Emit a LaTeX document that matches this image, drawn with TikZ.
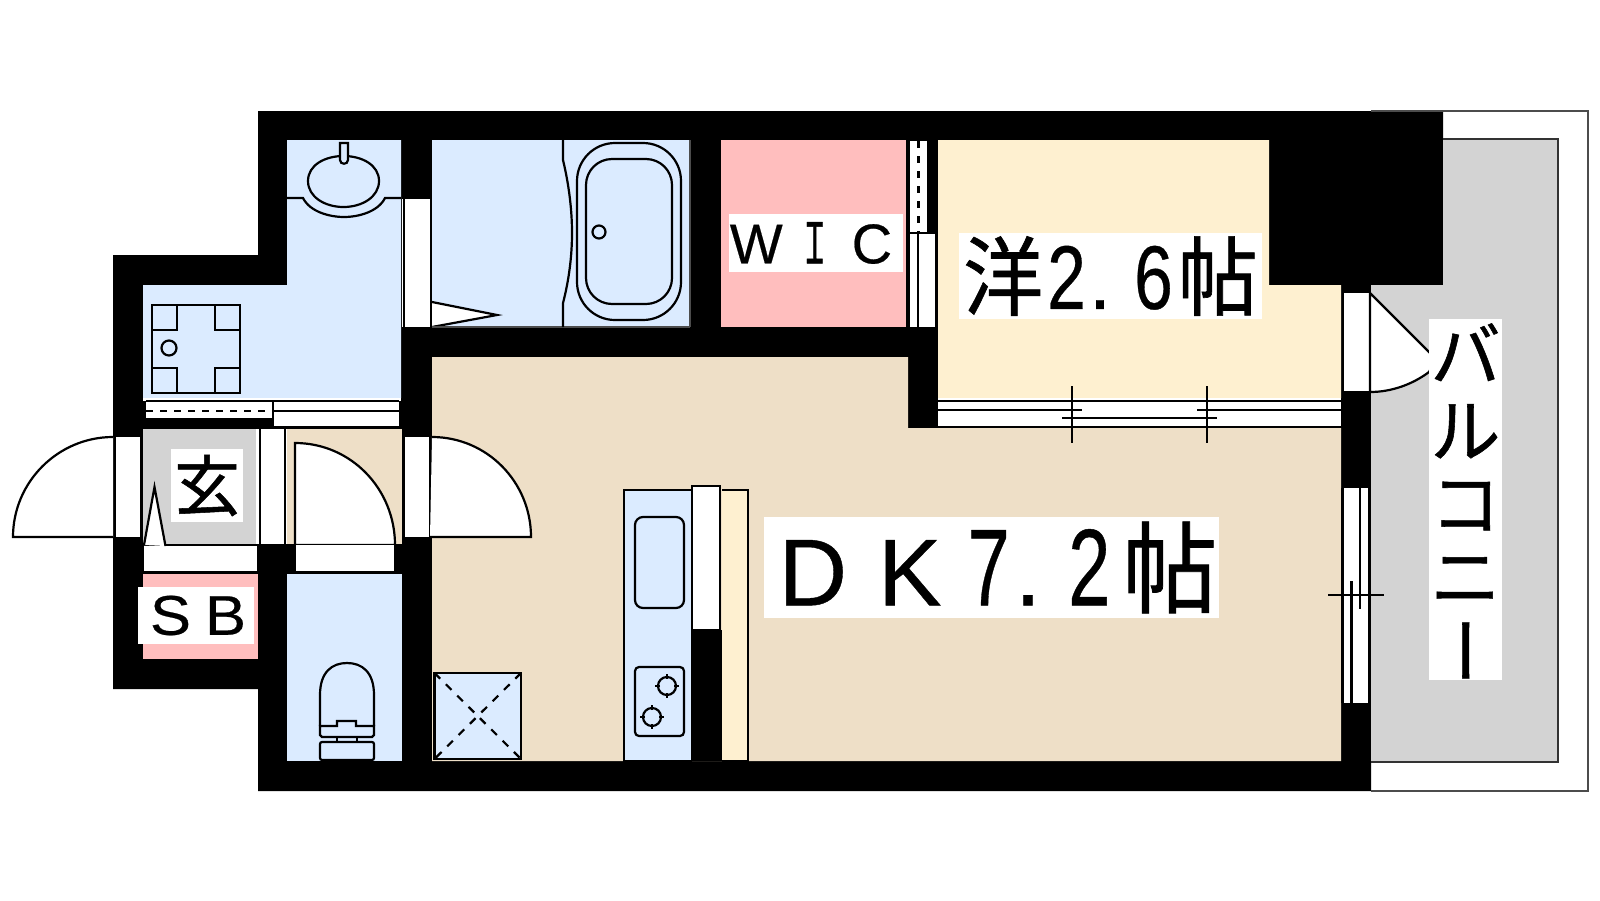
\documentclass[tikz,border=0pt]{standalone}
\usepackage{fontspec}
\usepackage{xcolor}
\usepackage{graphicx}
\setmainfont[FakeBold=0.4]{Liberation Sans}
\newfontfamily\jpfont[FakeBold=0.8]{Noto Sans CJK JP}
\usetikzlibrary{positioning}
\definecolor{bathblue}{HTML}{DBEBFF}
\definecolor{floortan}{HTML}{EEDFC7}
\definecolor{roomcream}{HTML}{FEF0D0}
\definecolor{closetpink}{HTML}{FFBEBE}
\definecolor{slabgrey}{HTML}{D3D3D3}
\newcommand{\bignum}[1]{\scalebox{0.8}[1.15]{#1}}
\newcommand{\midnum}[1]{\scalebox{0.87}[1.13]{#1}}

\begin{document}
\begin{tikzpicture}[x=0.5pt,y=-0.5pt,
  fixture/.style={draw=black,line width=1.1pt},
  thinline/.style={draw=black,line width=1.1pt},
  tag/.style={fill=white,inner sep=0pt},
  smalltag/.style={tag,font=\fontsize{28}{28}\selectfont},
  bigtag/.style={tag,font=\fontsize{47.5}{47.5}\selectfont}]
\useasboundingbox (0,0) rectangle (1600,900);

\fill[black] (258,111) -- (1443,111) -- (1443,285) -- (1371,285) -- (1371,791) -- (258,791) -- (258,689) -- (113,689) -- (113,255) -- (258,255) -- cycle;

\fill[slabgrey] (1443,139) -- (1558,139) -- (1558,762) -- (1371,762) -- (1371,285) -- (1443,285) -- cycle;
\draw[thinline,draw=black!80] (1443,139) -- (1558,139) -- (1558,762) -- (1371,762);
\draw[thinline,draw=black!70] (1371,111) -- (1588,111) -- (1588,791) -- (1371,791);

\fill[bathblue] (287,140) -- (401,140) -- (401,398) -- (143,398) -- (143,285) -- (287,285) -- cycle;
\fill[bathblue] (432,140) rectangle (689,327);
\fill[closetpink] (721,140) rectangle (906,327);
\fill[roomcream] (938,140) -- (1269,140) -- (1269,285) -- (1341,285) -- (1341,398) -- (938,398) -- cycle;
\fill[floortan] (432,357) -- (908,357) -- (908,428) -- (1341,428) -- (1341,761) -- (432,761) -- cycle;
\fill[floortan] (287,429) rectangle (402,544);
\fill[slabgrey] (143,429) rectangle (256,544);
\fill[closetpink] (143,574) rectangle (258,659);
\fill[bathblue] (287,574) rectangle (402,761);

% openings
\fill[white] (143,398) rectangle (401,401);
\fill[white] (146,401) rectangle (272,418);
\fill[white] (273,401) rectangle (399,427);
\draw[thinline] (146,401) -- (399,401);
\draw[thinline,dash pattern=on 3.5pt off 3.5pt] (146,411) -- (272,411);
\draw[thinline] (273,411) -- (399,411);
\draw[thinline] (273,401) -- (273,427) -- (399,427);

\fill[white] (115,437) rectangle (141,537);
\draw[thinline] (115,437) -- (115,537);
\draw[thinline] (141,437) -- (141,537);
\filldraw[fill=white,thinline] (113,437) .. controls (58,437) and (13,482) .. (13,537) -- (113,537);

\fill[white] (144,545) rectangle (257,572);
\draw[thinline] (144,545) -- (257,545);
\draw[thinline] (144,572) -- (257,572);
\filldraw[fill=white,thinline] (144,545) -- (154.5,487) -- (165.5,546);

\fill[white] (256,429) rectangle (287,544);
\draw[thinline] (260,429) -- (260,544);
\draw[thinline] (285,429) -- (285,544);

\filldraw[fill=white,thinline] (295,545) -- (295,443) .. controls (351,443) and (395,489) .. (395,545) -- cycle;
\fill[white] (296,545) rectangle (394,572);
\draw[thinline] (296,572) -- (394,572);

\fill[white] (404,437) rectangle (430,537);
\draw[thinline] (404,437) -- (404,537);
\draw[thinline] (430,437) -- (430,537);
\filldraw[fill=white,thinline] (430,537) -- (531,537) .. controls (531,482) and (487,437) .. (432,437);

\fill[white] (402,199) rectangle (432,327);
\draw[thinline] (404,199) -- (404,327);
\draw[thinline] (431,199) -- (431,327);
\filldraw[fill=white,thinline] (432,302) -- (497,315) -- (432,327);

\fill[white] (910,141) rectangle (927,233);
\fill[white] (909,233) rectangle (936,327);
\draw[thinline] (909,141) -- (909,327);
\draw[thinline,line width=1.5pt,dash pattern=on 3.5pt off 4pt] (918,141) -- (918,233);
\draw[thinline] (909,233) -- (936,233);
\draw[thinline] (918,233) -- (918,327);
\draw[thinline] (936,233) -- (936,327);

\fill[white] (938,398) rectangle (1341,428);
\draw[thinline] (938,401) -- (1341,401);
\draw[thinline] (938,427) -- (1341,427);
\draw[thinline] (938,410) -- (1082,410);
\draw[thinline] (1197,410) -- (1341,410);
\draw[thinline] (1062,418) -- (1217,418);
\draw[thinline] (1072,386) -- (1072,443);
\draw[thinline] (1207,386) -- (1207,443);

\fill[white] (1343,293) rectangle (1370,392);
\draw[thinline] (1343,293) -- (1343,392) -- (1370,392);
\draw[thinline] (1370,293) -- (1370,392);
\filldraw[fill=white,thinline] (1370,293) -- (1440,363) -- (1440,350) -- (1429,372) .. controls (1413,384) and (1392,392) .. (1370,392) -- cycle;

\fill[white] (1342,488) rectangle (1370,703);
\draw[thinline] (1342.5,488) -- (1342.5,703);
\draw[thinline] (1369,488) -- (1369,703);
\draw[thinline] (1360,488) -- (1360,609);
\draw[thinline] (1351.5,581) -- (1351.5,703);
\draw[thinline] (1328,595) -- (1384,595);

% washroom
\draw[fixture] (287,198) -- (303,198) .. controls (310,212) and (330,217) .. (344,217) .. controls (358,217) and (378,212) .. (385,198) -- (401,198);
\draw[fixture,fill=bathblue] (308,181) .. controls (308,165) and (325,156) .. (343.5,156) .. controls (362,156) and (379,165) .. (379,181) .. controls (379,197) and (362,207) .. (343.5,207) .. controls (325,207) and (308,197) .. (308,181) -- cycle;
\draw[fixture,fill=bathblue] (340,143) -- (348,143) -- (348,160) .. controls (348,165) and (340,165) .. (340,160) -- cycle;
\draw[fixture] (152,305) rectangle (240,393);
\draw[fixture] (177,305) |- (152,330);
\draw[fixture] (215,305) |- (240,330);
\draw[fixture] (177,393) |- (152,368);
\draw[fixture] (215,393) |- (240,368);
\draw[fixture] (169,348) circle [radius=7.5];

% bath
\draw[thinline,draw=black!70] (690,140) -- (690,327);
\draw[thinline,draw=black!70] (432,327) -- (690,327);
\draw[fixture] (563,140) -- (563,160) .. controls (569,185) and (572,210) .. (572,233) .. controls (572,256) and (569,280) .. (563,303) -- (563,327);
\draw[fixture,rounded corners=19pt] (577,143) rectangle (681,320);
\draw[fixture,rounded corners=13pt] (586,159) rectangle (672,304);
\draw[fixture] (599,232) circle [radius=6.5];

% toilet
\draw[fixture] (320,726) -- (320,695) .. controls (320,672) and (332,663) .. (347,663) .. controls (362,663) and (374,672) .. (374,695) -- (374,726);
\draw[fixture] (320,726) -- (337,726) -- (337,721) -- (356,721) -- (356,726) -- (374,726) -- (374,735) -- (372,737) -- (322,737) -- (320,735) -- cycle;
\draw[fixture] (337,737) rectangle (357,742);
\draw[fixture,rounded corners=1pt] (320,742) rectangle (374,760);

% hatch
\draw[fixture,line width=1.3pt,fill=bathblue] (434.5,673) rectangle (521,759);
\draw[thinline,dash pattern=on 4pt off 4pt] (434.5,673) -- (521,759);
\draw[thinline,dash pattern=on 4pt off 4pt] (521,673) -- (434.5,759);

% kitchen
\draw[fixture,fill=roomcream] (722,490) -- (748,490) -- (748,761) -- (722,761);
\draw[fixture,fill=bathblue] (692,490) -- (624,490) -- (624,761) -- (692,761);
\fill[black] (691,630) rectangle (722,761);
\filldraw[fill=white,fixture] (692,486) -- (720,486) -- (720,630) -- (692,630) -- cycle;
\draw[fixture,rounded corners=4pt] (635,517) rectangle (684,608);
\draw[fixture,rounded corners=2pt] (635,667) rectangle (684,736);
\foreach \cx/\cy in {667/686,652/717}{
  \draw[fixture] (\cx,\cy) circle [radius=9];
  \foreach \a in {0,90,180,270}
    \draw[fixture] (\cx,\cy) ++(\a:7) -- ++(\a:5);
}

% labels
\node[smalltag,minimum width=87pt,minimum height=29pt] (wiclabel) at (815.5,243) {W\makebox[32pt]{\scalebox{0.55}[1]{\jpfont Ｉ}}\kern2.5pt C\kern4.5pt};
\node[smalltag,minimum width=58pt,minimum height=28.5pt] (sblabel) at (196,615.5) {\kern2pt\scalebox{1.1}[1]{S}\kern7pt\scalebox{1.1}[1]{B}};
\node[tag,font=\fontsize{33}{33}\selectfont\jpfont,minimum width=36pt,minimum height=36.5pt] (genkanlabel) at (207,485.5) {玄};
\node[tag,font=\fontsize{40}{40}\selectfont,minimum width=151.5pt,minimum height=43pt] (yolabel) at (1110.5,276) {\scalebox{1}[1.08]{\jpfont 洋}\kern2pt\midnum{2}\kern1.5pt.\kern11.5pt\midnum{6}\kern2.5pt\scalebox{1}[1.08]{\jpfont 帖}};
\node[bigtag,minimum width=227.5pt,minimum height=50.5pt] (dklabel) at (991.5,567.5) {\raisebox{-1.5pt}{\kern6.5pt D\kern15.5pt K\kern13pt\bignum{7}\kern2.5pt.\kern13.5pt\bignum{2}\kern6pt\scalebox{1}[1.05]{\jpfont 帖}}};
\node[tag,align=center,font=\fontsize{35}{36.5}\selectfont\jpfont,minimum width=36.5pt,minimum height=180.5pt] (balconylabel) at (1465.5,499.5) {\raisebox{1.5pt}{バ}\\ル\\コ\\ニ\\\raisebox{5pt}[0pt][0pt]{\kern12pt\rotatebox[origin=c]{90}{ー}}};
\end{tikzpicture}
\end{document}
